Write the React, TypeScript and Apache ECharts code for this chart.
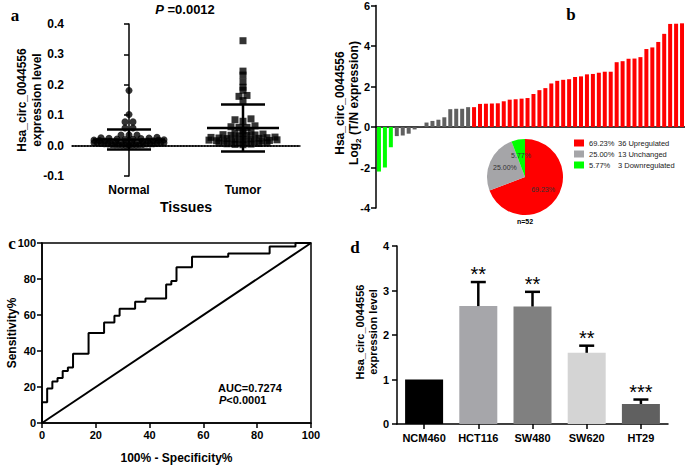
import React, { useEffect, useRef } from "react";
import * as echarts from "echarts";

// ---------- Panel a: scatter (Normal vs Tumor) ----------
const groupLabels = ["Normal", "Tumor"];
const normalValues = [
  0.181, 0.102, 0.078, 0.078, 0.058, 0.058, 0.035, 0.035, 0.035,
  0.027, 0.026, 0.025, 0.024, 0.023, 0.022, 0.021, 0.02, 0.019,
  0.018, 0.018, 0.017, 0.016, 0.015, 0.015, 0.014, 0.013, 0.012, 0.012,
  0.011, 0.01, 0.01, 0.009, 0.009, 0.008, 0.008, 0.007, 0.007, 0.006,
  0.006, 0.005, 0.005, 0.005, 0.004, 0.004, 0.003, 0.003, 0.003, 0.002,
  0.002, 0.002, 0.001, 0.001,
];
const tumorValues = [
  0.345, 0.245, 0.232, 0.21, 0.192, 0.182, 0.165, 0.162, 0.148, 0.088,
  0.085, 0.08, 0.065, 0.062, 0.06, 0.06,
  0.05, 0.045, 0.042, 0.04, 0.038, 0.036, 0.035, 0.034, 0.033, 0.032,
  0.028, 0.027, 0.026, 0.025, 0.024, 0.023, 0.022, 0.021, 0.02, 0.019,
  0.018, 0.017, 0.016, 0.015, 0.014, 0.013, 0.012, 0.011, 0.01, 0.009,
  0.008, 0.007, 0.006, 0.005, 0.004, 0.003,
];
const normalStats = [0.02, 0.033]; // mean, SD
const tumorStats = [0.058, 0.077];
const aTicks = [-0.1, 0.4, 0.1]; // min, max, interval

// ---------- Panel b: waterfall + pie ----------
const downValues = [-2.2, -2.0, -1.0];
const unchangedValues = [-0.45, -0.42, -0.33, -0.12, 0.02, 0.22, 0.3, 0.36, 0.48, 0.88, 0.9, 0.9, 0.98];
const upValues = [
  0.98, 1.14, 1.15, 1.16, 1.17, 1.27, 1.35, 1.37, 1.4, 1.43, 1.63, 1.82,
  1.92, 2.15, 2.28, 2.33, 2.36, 2.47, 2.5, 2.6, 2.62, 2.68, 2.73, 2.73,
  3.2, 3.25, 3.37, 3.38, 3.45, 3.85, 3.93, 4.2, 4.6, 5.09, 5.1, 5.12,
];
const pieNames = ["Upregulated", "Unchanged", "Downregulated"];
const pieCounts = [36, 13, 3];
const pieColors = ["#ff0000", "#a5a5a8", "#00ff00"];

// ---------- Panel c: ROC ----------
const rocFpr = [0, 0, 1.92, 3.85, 5.77, 7.69, 9.62, 11.54, 17.31, 23.08, 26.92, 28.85, 34.62, 38.46, 46.15, 48.08, 50, 55.77, 69.23, 84.62, 94.23, 100];
const rocTpr = [0, 11.54, 19.23, 23.08, 25, 28.85, 30.77, 38.46, 50, 55.77, 59.62, 63.46, 67.31, 69.23, 76.92, 78.85, 86.54, 92.31, 94.23, 98.08, 100, 100];

// ---------- Panel d: cell lines ----------
const cellLines = ["NCM460", "HCT116", "SW480", "SW620", "HT29"];
const cellMeans = [1.0, 2.65, 2.64, 1.6, 0.45];
const cellUpper = [1.0, 3.19, 2.97, 1.76, 0.55];
const cellStars = ["", "**", "**", "**", "***"];
const cellColors = ["#000000", "#a6a6aa", "#808080", "#d4d4d4", "#606060"];

const SANS = '"Liberation Sans", Arial, sans-serif';
const SERIF = '"Liberation Serif", "Times New Roman", serif';

// grid geometry (layout)
const GA = { left: 72, top: 24, width: 228, height: 152 };
const GB = { left: 376, top: 3, width: 309, height: 205 };
const GC = { left: 42, top: 243, width: 269, height: 180 };
const GD = { left: 397, top: 246, width: 271, height: 178 };

// Prism-like column scatter: values binned into rows, spread horizontally (px offsets)
function columnLayout(values: number[], binSize: number, maxHalf: number, maxSp: number): number[] {
  const bins: Record<number, number[]> = {};
  values.forEach((v, i) => {
    const k = Math.floor(v / binSize + 1e-9);
    (bins[k] = bins[k] || []).push(i);
  });
  const out = new Array(values.length).fill(0);
  Object.values(bins).forEach((idx) => {
    idx.sort((a, b) => values[a] - values[b]);
    const n = idx.length;
    const sp = n > 1 ? Math.min(maxSp, (2 * maxHalf) / (n - 1)) : 0;
    const slots = Array.from({ length: n }, (_, j) => (j - (n - 1) / 2) * sp);
    slots.sort((a, b) => Math.abs(a) - Math.abs(b) || a - b);
    idx.forEach((vi, j) => (out[vi] = slots[j]));
  });
  return out;
}

function txt(text: string, x: number, y: number, font: string, align = "center", extra: any = {}) {
  return {
    type: "text",
    x,
    y,
    ...extra,
    style: {
      text,
      font,
      fill: "#000",
      align,
      verticalAlign: "middle",
      textAlign: align,
      textVerticalAlign: "middle",
    },
  };
}

export default function App() {
  const ref = useRef<HTMLDivElement>(null);
  useEffect(() => {
    if (!ref.current) return;
    const chart = echarts.init(ref.current, undefined, { renderer: "svg" });

    const pxX = GA.width / 2;
    const nOff = columnLayout(normalValues, 0.01, 35, 8);
    const tOff = columnLayout(tumorValues, 0.01, 34, 8);

    const waterfall = [
      ...downValues.map((v) => ({ value: v, itemStyle: { color: "#00ff00" } })),
      ...unchangedValues.map((v) => ({ value: v, itemStyle: { color: "#606060" } })),
      ...upValues.map((v) => ({ value: v, itemStyle: { color: "#ff0000" } })),
    ];
    const total = pieCounts.reduce((a, b) => a + b, 0);

    const axisLine = { show: true, lineStyle: { color: "#000", width: 1.5 } };
    const axisTick = { show: true, length: 5, lineStyle: { color: "#000", width: 1.5 } };
    const tickLabel = { color: "#000", fontWeight: "bold", fontSize: 11, fontFamily: SANS };

    const option: any = {
      animation: false,
      backgroundColor: "#fff",
      grid: [
        { ...GA },
        { ...GB },
        { ...GC, show: true, borderColor: "#000", borderWidth: 1.5 },
        { ...GD },
      ],
      xAxis: [
        {
          type: "category", gridIndex: 0, data: groupLabels, boundaryGap: true,
          axisLine, axisTick: { ...axisTick, alignWithLabel: true },
          axisLabel: { ...tickLabel, fontSize: 12, margin: 8 }, splitLine: { show: false },
        },
        { type: "value", gridIndex: 0, min: -0.5, max: 1.5, show: false },
        {
          type: "category", gridIndex: 1, data: waterfall.map((_, i) => String(i + 1)),
          axisLine: { ...axisLine, onZero: true }, axisTick: { show: false }, axisLabel: { show: false },
        },
        {
          type: "value", gridIndex: 2, min: 0, max: 100, interval: 20,
          axisLine, axisTick, axisLabel: { ...tickLabel, margin: 6 }, splitLine: { show: false },
        },
        {
          type: "category", gridIndex: 3, data: cellLines,
          axisLine, axisTick: { ...axisTick, alignWithLabel: true },
          axisLabel: { ...tickLabel, margin: 8, interval: 0 },
        },
      ],
      yAxis: [
        {
          type: "value", gridIndex: 0, min: aTicks[0], max: aTicks[1], interval: aTicks[2],
          axisLine, axisTick, splitLine: { show: false },
          axisLabel: { ...tickLabel, fontSize: 12, formatter: (v: number) => v.toFixed(1) },
        },
        {
          type: "value", gridIndex: 1, min: -4, max: 6, interval: 2,
          axisLine, axisTick, splitLine: { show: false }, axisLabel: { ...tickLabel, margin: 6 },
        },
        {
          type: "value", gridIndex: 2, min: 0, max: 100, interval: 20,
          axisLine, axisTick, splitLine: { show: false }, axisLabel: { ...tickLabel, margin: 6 },
        },
        {
          type: "value", gridIndex: 3, min: 0, max: 4, interval: 1,
          axisLine, axisTick, splitLine: { show: false }, axisLabel: { ...tickLabel, margin: 8 },
        },
      ],
      legend: {
        data: pieNames,
        orient: "vertical",
        left: 569,
        top: 134,
        itemWidth: 10,
        itemHeight: 7,
        itemGap: 3,
        icon: "rect",
        formatter: (name: string) => {
          const i = pieNames.indexOf(name);
          const pct = ((pieCounts[i] / total) * 100).toFixed(2) + "%";
          return `{p|${pct}}{n|${pieCounts[i]} ${name}}`;
        },
        textStyle: {
          color: "#222",
          fontFamily: SANS,
          fontSize: 7.5,
          lineHeight: 8,
          rich: {
            p: { width: 29, fontSize: 7.5, fontFamily: SANS, color: "#222", lineHeight: 8 },
            n: { fontSize: 7.5, fontFamily: SANS, color: "#222", lineHeight: 8 },
          },
        },
      },
      series: [
        {
          type: "scatter", xAxisIndex: 1, yAxisIndex: 0, symbol: "circle", symbolSize: 7,
          itemStyle: { color: "#000" },
          data: normalValues.map((v, i) => [0 + nOff[i] / pxX, v]),
          markLine: {
            silent: true, symbol: "none", label: { show: false },
            lineStyle: { type: "dotted", color: "#000", width: 1.5 },
            data: [{ yAxis: 0 }],
          },
        },
        {
          type: "scatter", xAxisIndex: 1, yAxisIndex: 0, symbol: "rect", symbolSize: 7,
          itemStyle: { color: "#000" },
          data: tumorValues.map((v, i) => [1 + tOff[i] / pxX, v]),
        },
        {
          type: "custom", xAxisIndex: 1, yAxisIndex: 0, z: 5,
          data: [[0, normalStats[0], normalStats[1]], [1, tumorStats[0], tumorStats[1]]],
          renderItem: (params: any, api: any) => {
            const g = api.value(0), m = api.value(1), s = api.value(2);
            const c = api.coord([g, m]);
            const hi = api.coord([g, m + s]);
            const lo = api.coord([g, m - s]);
            const st = { stroke: "#000", lineWidth: 2.5 };
            const mw = 36, cw = 22;
            return {
              type: "group",
              children: [
                { type: "line", shape: { x1: c[0] - mw, y1: c[1], x2: c[0] + mw, y2: c[1] }, style: st },
                { type: "line", shape: { x1: c[0], y1: hi[1], x2: c[0], y2: lo[1] }, style: st },
                { type: "line", shape: { x1: c[0] - cw, y1: hi[1], x2: c[0] + cw, y2: hi[1] }, style: st },
                { type: "line", shape: { x1: c[0] - cw, y1: lo[1], x2: c[0] + cw, y2: lo[1] }, style: st },
              ],
            };
          },
        },
        {
          type: "bar", xAxisIndex: 2, yAxisIndex: 1, barWidth: 4, data: waterfall,
        },
        {
          type: "pie", center: [525, 177], radius: 38, startAngle: 90, clockwise: true,
          data: pieNames.map((n, i) => ({ name: n, value: pieCounts[i], itemStyle: { color: pieColors[i] } })),
          label: {
            show: true, position: "inside", color: "#333", fontSize: 7, fontFamily: SANS,
            formatter: (p: any) => p.percent.toFixed(2) + "%",
          },
          labelLine: { show: false },
        },
        {
          type: "line", xAxisIndex: 3, yAxisIndex: 2, step: "end", symbol: "none",
          lineStyle: { color: "#000", width: 2 },
          data: rocFpr.map((x, i) => [x, rocTpr[i]]),
        },
        {
          type: "line", xAxisIndex: 3, yAxisIndex: 2, symbol: "none",
          lineStyle: { color: "#000", width: 2 },
          data: [[0, 0], [100, 100]],
        },
        {
          type: "bar", xAxisIndex: 4, yAxisIndex: 3, barWidth: 38,
          data: cellMeans.map((v, i) => ({ value: v, itemStyle: { color: cellColors[i] } })),
        },
        {
          type: "custom", xAxisIndex: 4, yAxisIndex: 3, z: 5,
          data: cellMeans.map((m, i) => [i, m, cellUpper[i]]),
          renderItem: (params: any, api: any) => {
            const i = api.value(0), m = api.value(1), u = api.value(2);
            const b = api.coord([i, m]);
            const t = api.coord([i, u]);
            const st = { stroke: "#000", lineWidth: 2.5 };
            const children: any[] = [];
            if (u > m) {
              children.push(
                { type: "line", shape: { x1: b[0], y1: b[1], x2: t[0], y2: t[1] }, style: st },
                { type: "line", shape: { x1: t[0] - 7.5, y1: t[1], x2: t[0] + 7.5, y2: t[1] }, style: st }
              );
            }
            const s = cellStars[params.dataIndex];
            if (s) {
              children.push({
                type: "text",
                style: {
                  text: s, x: t[0], y: t[1] - 8, fill: "#000",
                  font: `20px ${SANS}`,
                  align: "center", verticalAlign: "middle", textAlign: "center", textVerticalAlign: "middle",
                },
              });
            }
            return { type: "group", children };
          },
        },
      ],
      graphic: [
        txt("a", 15, 15, `bold 17px ${SERIF}`),
        txt("b", 571, 14, `bold 17px ${SERIF}`),
        txt("c", 12, 243, `bold 17px ${SERIF}`),
        txt("d", 355, 247, `bold 17px ${SERIF}`),
        {
          type: "text", x: 185, y: 9,
          style: {
            text: "{i|P} =0.0012", font: `bold 13px ${SANS}`, fill: "#000",
            align: "center", verticalAlign: "middle", textAlign: "center", textVerticalAlign: "middle",
            rich: { i: { fontStyle: "italic", fontWeight: "bold", fontSize: 13, fontFamily: SANS } },
          },
        },
        txt("Tissues", GA.left + GA.width / 2, 207, `bold 14px ${SANS}`),
        txt("Hsa_circ_0044556", 22, 100, `bold 12px ${SANS}`, "center", { rotation: Math.PI / 2 }),
        txt("expression level", 37, 100, `bold 12px ${SANS}`, "center", { rotation: Math.PI / 2 }),
        txt("Hsa_circ_0044556", 340, 103, `bold 12px ${SANS}`, "center", { rotation: Math.PI / 2 }),
        {
          type: "text", x: 354, y: 103, rotation: Math.PI / 2,
          style: {
            text: "Log{s|2} (T/N expression)", font: `bold 12px ${SANS}`, fill: "#000",
            align: "center", verticalAlign: "middle", textAlign: "center", textVerticalAlign: "middle",
            rich: { s: { fontSize: 8, fontWeight: "bold", fontFamily: SANS, verticalAlign: "bottom", lineHeight: 16 } },
          },
        },
        txt("n=52", 525, 221, `bold 7px ${SANS}`),
        txt("Sensitivity%", 12, 333, `bold 12px ${SANS}`, "center", { rotation: Math.PI / 2 }),
        txt("100% - Specificity%", GC.left + GC.width / 2, 458, `bold 12px ${SANS}`),
        txt("AUC=0.7274", 218, 388, `bold 11px ${SANS}`, "left"),
        {
          type: "text", x: 219, y: 400,
          style: {
            text: "{i|P}<0.0001", font: `bold 11px ${SANS}`, fill: "#000",
            align: "left", verticalAlign: "middle", textAlign: "left", textVerticalAlign: "middle",
            rich: { i: { fontStyle: "italic", fontWeight: "bold", fontSize: 11, fontFamily: SANS } },
          },
        },
        txt("Hsa_circ_0044556", 360, 332, `bold 11px ${SANS}`, "center", { rotation: Math.PI / 2 }),
        txt("expression level", 373, 332, `bold 11px ${SANS}`, "center", { rotation: Math.PI / 2 }),
      ],
    };
    chart.setOption(option);
    return () => chart.dispose();
  }, []);
  return <div ref={ref} style={{ position: "fixed", left: 0, top: 0, width: 685, height: 465, background: "#fff" }} />;
}
